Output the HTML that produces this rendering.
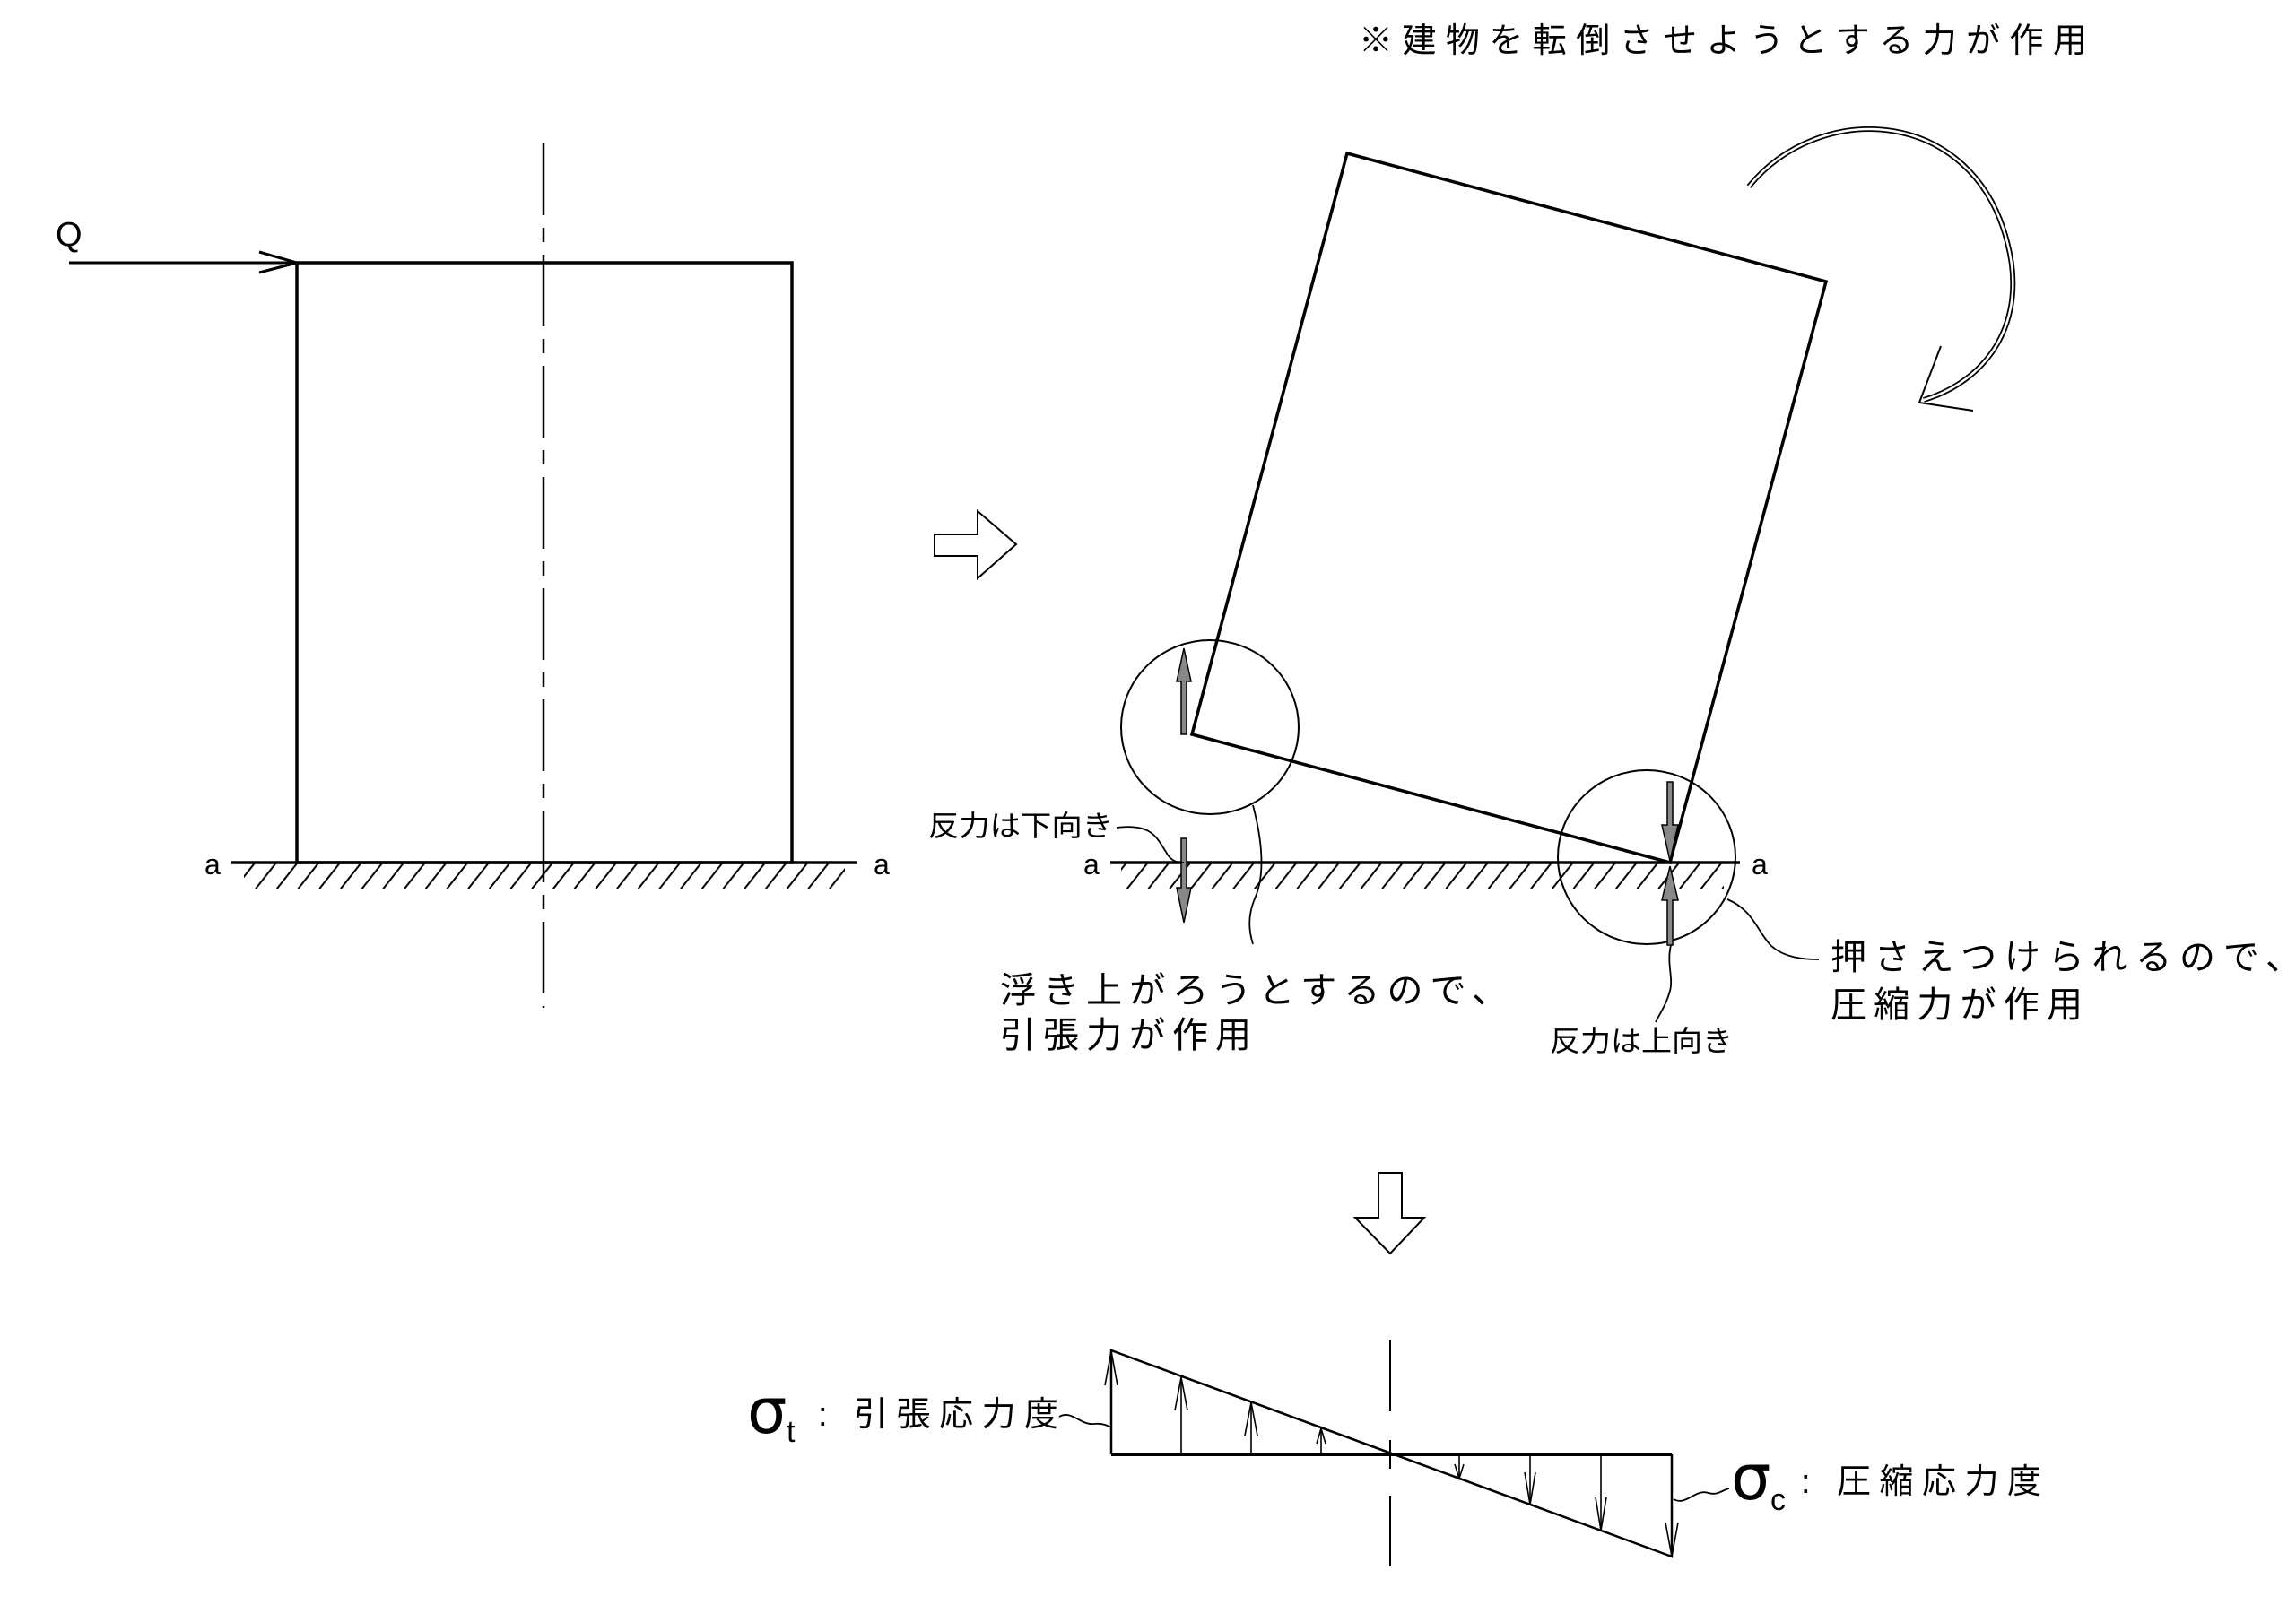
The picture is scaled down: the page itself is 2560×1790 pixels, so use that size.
<!DOCTYPE html>
<html><head><meta charset="utf-8"><style>html,body{margin:0;padding:0;background:#fff}svg{display:block}</style></head>
<body>
<svg width="2560" height="1790" viewBox="0 0 2560 1790" xmlns="http://www.w3.org/2000/svg" font-family="'Liberation Sans','Noto Sans CJK JP',sans-serif">
<defs>
<pattern id="h" patternUnits="userSpaceOnUse" width="23.7" height="30" x="0" y="962">
<line x1="0" y1="30" x2="23.7" y2="0" stroke="#000" stroke-width="2"/>
</pattern>
</defs>
<rect width="2560" height="1790" fill="#fff"/>

<text x="1515" y="58" font-size="38" textLength="812" lengthAdjust="spacing">※建物を転倒させようとする力が作用</text>

<!-- LEFT DIAGRAM -->
<text x="62" y="274" font-size="38" font-family="'Liberation Sans Narrow','Liberation Sans',sans-serif">Q</text>
<line x1="77" y1="293" x2="331" y2="293" stroke="#000" stroke-width="3"/>
<polyline points="289,281 331,293 289,304" fill="none" stroke="#000" stroke-width="3"/>
<rect x="331" y="293" width="552" height="669" fill="none" stroke="#000" stroke-width="3.5"/>
<line x1="606" y1="160" x2="606" y2="1124" stroke="#000" stroke-width="2.5" stroke-dasharray="80,14,16,14"/>
<line x1="258" y1="962" x2="955" y2="962" stroke="#000" stroke-width="3.5"/>
<rect x="272" y="962" width="670" height="30" fill="url(#h)"/>
<text x="228" y="975" font-size="32">a</text>
<text x="974" y="975" font-size="32">a</text>

<polygon points="1042,596 1090,596 1090,570 1133,607 1090,645 1090,620 1042,620" fill="#fff" stroke="#000" stroke-width="2"/>

<!-- TILTED BUILDING -->
<polygon points="1502,171 2036,314 1862,962 1329,819" fill="none" stroke="#000" stroke-width="3.5"/>

<path d="M1950,208 C2030,110 2200,120 2238,270 C2262,360 2215,425 2145,446" fill="none" stroke="#000" stroke-width="6"/>
<path d="M1950,208 C2030,110 2200,120 2238,270 C2262,360 2215,425 2145,446" fill="none" stroke="#fff" stroke-width="2.5"/>
<polyline points="2164,386 2140,449 2200,458" fill="none" stroke="#000" stroke-width="2"/>

<line x1="1238" y1="962" x2="1940" y2="962" stroke="#000" stroke-width="3.5"/>
<rect x="1250" y="962" width="672" height="30" fill="url(#h)"/>
<text x="1208" y="975" font-size="32">a</text>
<text x="1953" y="975" font-size="32">a</text>

<ellipse cx="1349" cy="811" rx="99" ry="97" fill="none" stroke="#000" stroke-width="2"/>
<ellipse cx="1836" cy="956" rx="99" ry="97" fill="none" stroke="#000" stroke-width="2"/>

<g fill="#888" stroke="#000" stroke-width="1.5">
<polygon points="1317,819 1317,760 1312,760 1320,723 1328,760 1323,760 1323,819"/>
<polygon points="1317,935 1317,990 1312,990 1320,1029 1328,990 1323,990 1323,935"/>
<polygon points="1859,872 1859,920 1853,920 1862,960 1871,920 1865,920 1865,872"/>
<polygon points="1859,1054 1859,1004 1853,1004 1862,966 1871,1004 1865,1004 1865,1054"/>
</g>

<text x="1035" y="932" font-size="32" textLength="206" lengthAdjust="spacingAndGlyphs">反力は下向き</text>
<path d="M1245,923 C1285,918 1290,935 1300,950 C1305,960 1312,962 1320,962" fill="none" stroke="#000" stroke-width="1.8"/>
<path d="M1397,898 C1408,940 1410,975 1400,1000 C1390,1022 1393,1040 1397,1053" fill="none" stroke="#000" stroke-width="1.8"/>
<text x="1115" y="1118" font-size="40" textLength="566" lengthAdjust="spacing">浮き上がろうとするので、</text>
<text x="1115" y="1168" font-size="40" textLength="280" lengthAdjust="spacing">引張力が作用</text>

<path d="M1863,1054 C1858,1075 1866,1090 1862,1105 C1858,1120 1852,1128 1846,1140" fill="none" stroke="#000" stroke-width="1.8"/>
<text x="1728" y="1172" font-size="32" textLength="204" lengthAdjust="spacingAndGlyphs">反力は上向き</text>
<path d="M1926,1003 C1955,1015 1960,1040 1975,1055 C1990,1068 2010,1070 2028,1070" fill="none" stroke="#000" stroke-width="1.8"/>
<text x="2041" y="1081" font-size="40" textLength="525" lengthAdjust="spacing">押さえつけられるので、</text>
<text x="2041" y="1134" font-size="40" textLength="281" lengthAdjust="spacing">圧縮力が作用</text>

<polygon points="1537,1308 1563,1308 1563,1358 1588,1358 1550,1398 1511,1358 1537,1358" fill="#fff" stroke="#000" stroke-width="2"/>

<!-- STRESS DIAGRAM -->
<line x1="1550" y1="1494" x2="1550" y2="1574" stroke="#000" stroke-width="2"/>
<line x1="1550" y1="1606" x2="1550" y2="1638" stroke="#000" stroke-width="2"/>
<line x1="1550" y1="1668" x2="1550" y2="1747" stroke="#000" stroke-width="2"/>
<polyline points="1239,1622 1239,1506 1864,1736 1864,1622" fill="none" stroke="#000" stroke-width="2.5"/>
<line x1="1239" y1="1622" x2="1864" y2="1622" stroke="#000" stroke-width="4"/>
<g stroke="#000" stroke-width="1.6" fill="none">
<line x1="1317" y1="1622" x2="1317" y2="1535"/><line x1="1395" y1="1622" x2="1395" y2="1563"/><line x1="1473" y1="1622" x2="1473" y2="1592"/>
<line x1="1627" y1="1622" x2="1627" y2="1649"/><line x1="1706" y1="1622" x2="1706" y2="1678"/><line x1="1785" y1="1622" x2="1785" y2="1707"/>
<polyline points="1232,1545 1239,1507 1246,1545"/>
<polyline points="1310,1573 1317,1536 1324,1573"/>
<polyline points="1388,1601 1395,1564 1402,1601"/>
<polyline points="1468,1610 1473,1593 1478,1610"/>
<polyline points="1622,1633 1627,1649 1632,1633"/>
<polyline points="1700,1642 1706,1678 1712,1642"/>
<polyline points="1779,1670 1785,1707 1791,1670"/>
<polyline points="1857,1698 1864,1736 1871,1698"/>
</g>
<text x="833" y="1598" font-size="70" font-family="'DejaVu Sans',sans-serif">σ</text>
<text x="877" y="1608" font-size="34">t</text>
<text x="912" y="1590" font-size="38" textLength="268" lengthAdjust="spacing">: 引張応力度</text>
<path d="M1181,1580 C1195,1572 1205,1590 1220,1588 C1230,1587 1235,1590 1239,1592" fill="none" stroke="#000" stroke-width="1.8"/>
<text x="1930" y="1672" font-size="70" font-family="'DejaVu Sans',sans-serif">σ</text>
<text x="1974" y="1684" font-size="34">c</text>
<text x="2008" y="1665" font-size="38" textLength="268" lengthAdjust="spacing">: 圧縮応力度</text>
<path d="M1866,1672 C1880,1680 1890,1660 1905,1665 C1915,1668 1920,1662 1928,1660" fill="none" stroke="#000" stroke-width="1.8"/>
</svg>
</body></html>
